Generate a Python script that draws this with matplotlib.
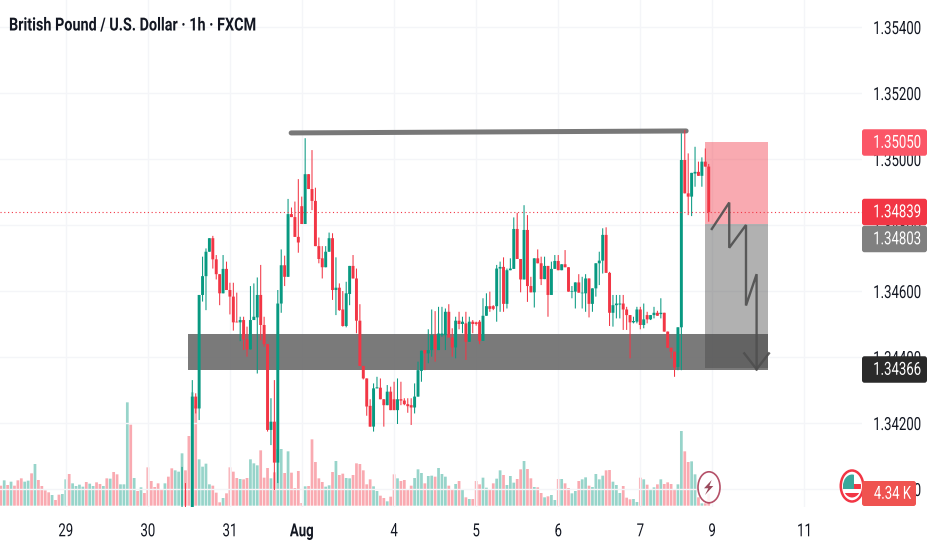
import numpy as np
import matplotlib
matplotlib.use("Agg")
import matplotlib.pyplot as plt
import matplotlib.patheffects as pe
from matplotlib.patches import Rectangle, FancyBboxPatch, Ellipse, Polygon
from matplotlib.transforms import Affine2D

plt.rcParams["font.family"] = ["Roboto", "Liberation Sans", "DejaVu Sans"]

# ---- candles, in points (0.00001) above 1.34000, first candle is bar -3
FIRST_BAR = -3
open_pts = [-150,-120,-200,
 -120,280,244,588,645,719,760,696,651,593,
 667,603,583,507,505,512,453,423,512,520,
 588,497,439,179,204,80,562,678,643,833,
 824,764,857,803,954,909,873,736,699,672,
 719,760,603,610,544,494,591,676,638,510,
 373,335,252,189,305,307,272,254,295,272,
 239,272,268,257,254,247,280,358,421,411,
 421,466,421,466,466,537,459,429,510,500,
 502,446,507,505,507,449,525,554,554,554,
 668,673,561,663,667,788,697,635,785,615,
 596,699,684,636,676,588,667,691,663,681,
 672,598,598,626,593,593,638,561,608,684,
 692,770,655,534,557,559,562,544,527,505,
 507,544,497,527,514,527,534,530,534,477,
 428,416,370,490,997,896,886,956,961,949,
 992,977]
high_pts = [67,18,-170,
 330,290,588,704,729,760,767,709,651,709,
 689,625,625,595,522,522,492,615,623,641,
 679,522,439,275,330,603,726,707,879,853,
 871,939,886,1063,954,1027,913,762,736,736,
 777,775,702,623,600,628,676,709,668,560,
 373,335,272,320,340,335,272,315,310,325,
 335,325,275,275,275,320,386,419,421,484,
 544,539,552,552,547,560,487,522,537,522,
 537,522,512,507,512,578,593,598,557,679,
 689,702,668,699,823,837,697,860,830,643,
 699,726,704,704,676,689,709,709,681,724,
 672,615,626,651,643,651,638,608,684,719,
 790,793,658,588,588,588,588,552,527,522,
 552,552,562,537,527,552,540,578,534,477,
 428,416,490,1078,1088,1017,958,1037,992,1005,
 1032,985]
low_pts = [-200,-200,-250,
 -150,229,209,568,542,719,668,635,557,593,
 603,529,480,505,448,421,401,423,512,350,
 451,431,174,133,-3,18,534,615,643,824,
 764,716,803,803,909,845,736,684,638,672,
 719,573,527,540,492,490,557,638,472,373,
 332,222,189,174,305,272,189,254,239,239,
 197,254,254,231,194,229,280,325,360,381,
 401,386,421,461,421,459,401,396,484,472,
 391,446,472,495,439,449,525,537,542,507,
 537,537,547,663,667,697,596,635,567,596,
 550,684,618,636,522,588,667,663,663,672,
 598,578,547,595,547,537,520,537,583,618,
 653,655,494,492,517,517,482,482,396,502,
 502,484,487,502,512,517,525,517,477,428,
 396,340,360,360,896,830,827,916,949,916,
 977,810]
close_pts = [-120,-150,-240,
 280,244,588,645,719,760,696,651,593,667,
 603,583,505,505,512,453,423,512,522,588,
 497,439,179,204,80,562,678,643,833,824,
 764,747,803,954,909,873,736,697,672,719,
 760,603,610,542,494,593,676,638,510,373,
 335,250,189,305,308,272,254,295,239,239,
 272,268,257,251,247,280,360,419,411,421,
 466,423,471,471,537,459,429,510,500,507,
 446,507,500,500,449,525,554,546,546,668,
 673,561,663,668,788,697,635,785,615,596,
 699,684,636,676,588,667,691,663,681,672,
 598,600,626,595,595,638,561,608,684,692,
 770,655,534,557,562,562,544,527,505,509,
 544,497,514,514,527,534,525,534,477,428,
 416,368,490,997,896,886,958,961,949,992,
 977,839]

# ---- volume, first bar is -56
FIRST_VOL_BAR = -56
volumes = [60,76,62,72,60,76,82,72,75,97,125,77,59,46,40,32,17,33,35,79,95,67,59,63,57,71,66,59,70,65,
 59,82,81,101,94,64,64,310,243,83,44,55,38,115,74,56,67,49,67,87,112,106,102,157,106,209,340,300,139,117,
 126,64,60,39,10,23,37,115,102,83,80,79,83,139,127,121,166,84,113,82,100,170,170,98,163,99,53,104,8,58,
 59,199,131,82,71,57,61,101,134,92,96,83,82,92,127,125,
 106,64,79,58,44,30,23,13,27,94,82,74,77,47,60,83,109,98,67,89,90,87,113,95,87,60,50,65,74,47,
 25,20,20,74,64,84,54,50,67,81,106,92,62,89,69,80,109,134,110,82,56,55,38,25,28,32,17,80,80,67,
 53,37,44,74,79,85,60,56,95,79,90,106,107,72,62,38,59,24,19,20,11,84,79,63,47,55,64,79,65,70,
 65,49,64,224,163,131,133,94,25,7,7,36]
# direction of the bars left of the first candle, G up, R down
early_vol_dirs = "RGRGRRRGGRGRRRRGRRGGRGGGGRGGRRGRGRRGGGRGRGRRRRRRGRRGG"[:53]

day_bars = [-37, -13, 11, 32, 59, 83, 107, 131, 152, 179]
day_labels = ["29", "30", "31", "Aug", "4", "5", "6", "7", "9", "11"]
price_ticks = [1.340, 1.342, 1.344, 1.346, 1.348, 1.350, 1.352, 1.354]

title = "British Pound / U.S. Dollar · 1h · FXCM"
last_price = 1.34839
res_bars, res_prices = [28.9, 144.4], [1.35079, 1.35085]
zone_bars, zone_prices = [-1.26, 168.3], [1.34360, 1.34469]
pos_bars = [149.9, 168.2]
stop_price, entry_price, target_price = 1.35050, 1.34803, 1.34366
zig_bars = [151.9, 157.0, 157.0, 161.9, 161.9, 165.0, 165.0]
zig_prices = [1.34788, 1.34868, 1.34731, 1.34800, 1.34556, 1.34651, 1.34363]
head_bars = [161.4, 165.0, 168.6]
head_prices = [1.34411, 1.34363, 1.34411]
tag_texts = ["1.35050", "1.34839", "1.34803", "1.34366"]
tag_colors = ["#fb5667", "#f23645", "#808080", "#2a2a2a"]
tag_centers = [142.5, 212, 239, 369.5]
vol_tag = "4.34 K"

GREEN, RED, TXT, GRID = "#089981", "#f23645", "#131722", "#f4f5f8"

W, H, PLOT_W, PLOT_H = 932, 550, 862, 507
BAR0_PX, BAR_PX = 192.3, 3.42
PX_PER_PRICE = 33000.0
SQUEEZE = 0.73  # the screenshot is squashed sideways, its text with it
FONT_PT = 13


class Squeeze(pe.AbstractPathEffect):
    """Draw a text narrower, holding it fixed at pixel column x0."""

    def __init__(self, x0, sx=SQUEEZE):
        super().__init__()
        self.x0, self.sx = x0, sx

    def draw_path(self, renderer, gc, tpath, affine, rgbFace=None):
        squash = Affine2D().translate(-self.x0, 0).scale(self.sx, 1).translate(self.x0, 0)
        renderer.draw_path(gc, tpath, affine + squash, rgbFace)


opens = 1.34 + np.array(open_pts) / 1e5
highs = 1.34 + np.array(high_pts) / 1e5
lows = 1.34 + np.array(low_pts) / 1e5
closes = 1.34 + np.array(close_pts) / 1e5
xs = np.arange(len(opens)) + FIRST_BAR
up = closes >= opens
cols = [GREEN if u else RED for u in up]

fig = plt.figure(figsize=(W / 100, H / 100), dpi=100, facecolor="white")
pos = [0, 1 - PLOT_H / H, PLOT_W / W, PLOT_H / H]
xlim = ((0 - BAR0_PX) / BAR_PX, (PLOT_W - BAR0_PX) / BAR_PX)

# volume pane sits under the price pane
vax = fig.add_axes(pos, zorder=0)
vx = np.arange(len(volumes)) + FIRST_VOL_BAR
vcols = [GREEN if d == "G" else RED for d in early_vol_dirs] + cols
vbars = vax.bar(vx, volumes, width=0.8, color=vcols, alpha=0.42, linewidth=0)
for p in vbars:
    p.set_snap(False)
vax.set_xlim(*xlim)
vax.set_ylim(-4, PLOT_H * 3 - 4)
vax.axis("off")

ax = fig.add_axes(pos, zorder=1)
ax.patch.set_alpha(0)
ax.set_xlim(*xlim)
ax.set_ylim(1.35 - (PLOT_H - 159) / PX_PER_PRICE, 1.35 + 159 / PX_PER_PRICE)
for s in ax.spines.values():
    s.set_visible(False)
ax.set_axisbelow(True)
ax.grid(True, color=GRID, lw=1.0)
ax.set_xticks(day_bars, day_labels)
ax.set_yticks(price_ticks, [f"{p:.5f}" for p in price_ticks])
ax.yaxis.tick_right()
ax.tick_params(axis="both", length=0, labelsize=FONT_PT, labelcolor=TXT)
ax.tick_params(axis="x", pad=11)
ax.tick_params(axis="y", pad=42.5)
for lab in ax.get_yticklabels():
    lab.set_ha("right")
    lab.set_path_effects([Squeeze(921)])
for lab, b in zip(ax.get_xticklabels(), day_bars):
    lab.set_path_effects([Squeeze(BAR0_PX + b * BAR_PX)])
ax.get_xticklabels()[3].set_fontweight("bold")

# drawings
ax.add_patch(Rectangle((zone_bars[0], zone_prices[0]), zone_bars[1] - zone_bars[0], zone_prices[1] - zone_prices[0],
                       fc="#6c6c6c", ec="none", alpha=0.9, zorder=1))
ax.plot(res_bars, res_prices, color="#787878", lw=3.6, solid_capstyle="round", zorder=1.2)
ax.add_patch(Rectangle((pos_bars[0], entry_price), pos_bars[1] - pos_bars[0], stop_price - entry_price,
                       fc=RED, ec="none", alpha=0.42, zorder=1.1))
ax.add_patch(Rectangle((pos_bars[0], target_price), pos_bars[1] - pos_bars[0], entry_price - target_price,
                       fc="#434343", ec="none", alpha=0.41, zorder=1.1))

# candles
wicks = ax.vlines(xs, lows, highs, colors=cols, lw=0.75, zorder=2)
wicks.set_snap(False)
bodies = ax.bar(xs, closes - opens, bottom=opens, width=0.86, color=cols, linewidth=0, zorder=2.1)
for p in bodies:
    p.set_snap(False)
ax.plot(xlim, [last_price, last_price], color=RED, lw=0.8, ls=(0, (1, 2.4)), zorder=3)
ax.plot(zig_bars, zig_prices, color="#4f4f4f", lw=1.7, alpha=0.9, solid_joinstyle="miter", zorder=4)
ax.plot(head_bars, head_prices, color="#4f4f4f", lw=1.7, alpha=0.9, solid_joinstyle="miter", zorder=4)

# overlay in pixels for tags and the little icons
top = fig.add_axes([0, 0, 1, 1], zorder=2)
top.set_xlim(0, W)
top.set_ylim(H, 0)
top.axis("off")
top.patch.set_alpha(0)


def tag(x0, x1, yc, h, color, text, tx):
    top.add_patch(FancyBboxPatch((x0 + 1, yc - h / 2 + 1), x1 - x0 - 2, h - 2, boxstyle="round,pad=1,rounding_size=2.5",
                                 fc=color, ec="none", zorder=3))
    t = top.text(tx, yc + 0.3, text, color="white", fontsize=FONT_PT, ha="right", va="center", zorder=4)
    t.set_path_effects([Squeeze(tx)])


for txt, c, yc in zip(tag_texts, tag_colors, tag_centers):
    tag(862, 927, yc, 26.5, c, txt, 921)

# lightning icon
top.add_patch(Ellipse((709, 487.3), 22, 31, fc="white", ec="#a8324e", lw=1.2, alpha=0.85, zorder=2))
top.add_patch(Polygon([(711.7, 480), (704, 488.3), (708.3, 488.3), (705, 495), (713.3, 486), (709.3, 486)],
                      fc="#9a4a5c", ec="none", zorder=2.1))

# currency icon
top.add_patch(Ellipse((852, 486), 22.5, 31, fc="white", ec=RED, lw=1.8, zorder=2))
flag = Ellipse((852, 486), 18, 23, fc="white", ec="none", zorder=2.1)
top.add_patch(flag)
for y0, h_, c in [(484, 5, RED), (493, 5, RED)]:
    r = Rectangle((842, y0), 22, h_, fc=c, ec="none", zorder=2.2)
    top.add_patch(r)
    r.set_clip_path(flag)
canton = Rectangle((842, 474), 12, 15, fc="#3aa89b", ec="none", zorder=2.3)
top.add_patch(canton)
canton.set_clip_path(flag)
tag(862, 916, 493.5, 25, "#ef5350", vol_tag, 911)

ttl = fig.text(9 / W, 1 - 25.5 / H, title, color=TXT, fontsize=FONT_PT, fontweight="bold", ha="left", va="center", zorder=5)
ttl_w = ttl.get_window_extent(fig.canvas.get_renderer()).width
ttl.set_path_effects([Squeeze(9, 247 / ttl_w)])

fig.savefig("out.png", dpi=100)
